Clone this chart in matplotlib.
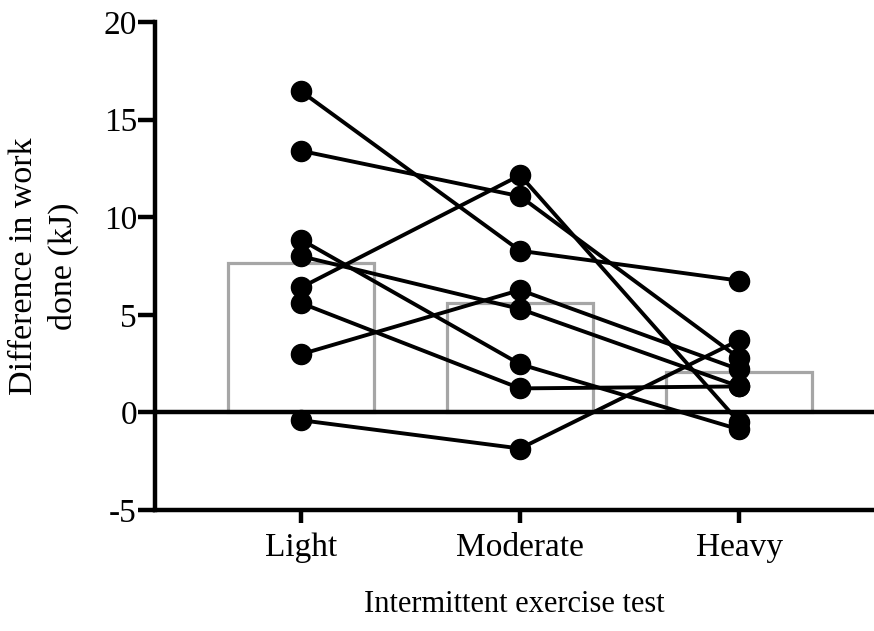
import numpy as np
import matplotlib
matplotlib.use('Agg')
import matplotlib.pyplot as plt

# data (each index = one subject)
categories = ["Light", "Moderate", "Heavy"]
light = [16.45, 13.4, 8.85, 8.0, 6.4, 5.6, 2.98, -0.4]
moderate = [8.28, 11.07, 2.47, 5.3, 12.15, 1.23, 6.27, -1.85]
heavy = [6.75, 2.78, -0.87, 1.33, -0.5, 1.33, 2.2, 3.7]
yticks = [-5, 0, 5, 10, 15, 20]

plt.rcParams['font.family'] = 'Liberation Serif'
plt.rcParams['font.size'] = 24
plt.rcParams['axes.unicode_minus'] = False

fig = plt.figure(figsize=(8.74, 6.31), dpi=100)
ax = fig.add_axes([155/874, 121/631, 719/874, 488/631])

x = np.arange(len(categories))
means = [np.mean(light), np.mean(moderate), np.mean(heavy)]
ax.bar(x, means, width=0.667, facecolor='none', edgecolor='#a6a6a6',
       linewidth=2.3, zorder=1)

ax.axhline(0, color='black', linewidth=3.2, zorder=2)

data = np.array([light, moderate, heavy]).T
for row in data:
    ax.plot(x, row, color='black', linewidth=2.8, marker='o',
            markersize=14.5, zorder=3, clip_on=False)

ax.set_xlim(-0.667, 2.616)
ax.set_ylim(-5, 20)
ax.set_yticks(yticks)
ax.set_yticklabels([str(t) for t in yticks])
ax.set_xticks(x)
ax.set_xticklabels(categories)

for s in ['top', 'right']:
    ax.spines[s].set_visible(False)
for s in ['left', 'bottom']:
    ax.spines[s].set_linewidth(3.2)
ax.tick_params(axis='y', length=12, width=3.2, pad=1)
ax.tick_params(axis='x', length=9, width=3.2, pad=7)

ax.set_ylabel('Difference in work\ndone (kJ)', fontsize=24.5, linespacing=1.35,
              labelpad=18)
ax.set_xlabel('Intermittent exercise test', fontsize=22, labelpad=20)

fig.savefig('out.png', dpi=100)
